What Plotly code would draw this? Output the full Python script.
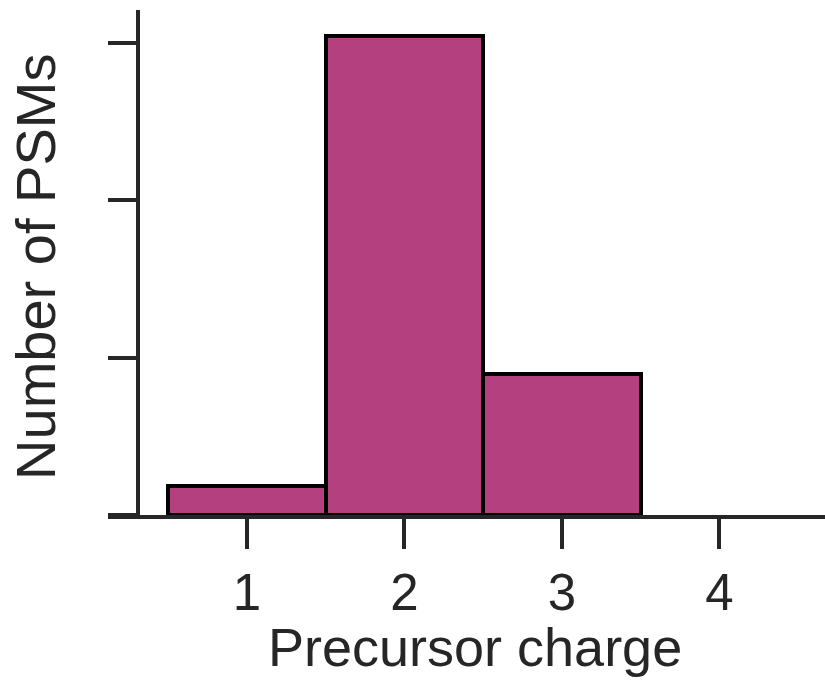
import plotly.graph_objects as go

charges = [1, 2, 3, 4]
psm_counts = [0.185, 3.045, 0.895, 0.0]
x_ticks = [1, 2, 3, 4]
x_tick_labels = ["1", "2", "3", "4"]
y_ticks = [0, 1, 2, 3]
x_title = "Precursor charge"
y_title = "Number of PSMs"

axis_color = "#262626"
font_family = "Liberation Sans, Arial, sans-serif"

edge_widths = [4 if v > 0 else 0 for v in psm_counts]

fig = go.Figure()
fig.add_trace(go.Bar(
    x=charges,
    y=psm_counts,
    width=1.0,
    marker=dict(color="rgb(181,64,128)", line=dict(color="black", width=edge_widths)),
    showlegend=False,
))

fig.update_layout(
    width=825,
    height=684,
    margin=dict(l=108, r=0, t=10, b=169),
    paper_bgcolor="white",
    plot_bgcolor="white",
    font=dict(family=font_family, color=axis_color),
    bargap=0,
    xaxis=dict(
        range=[0.1175, 4.670],
        tickvals=x_ticks,
        ticktext=x_tick_labels,
        ticks="outside",
        ticklen=30,
        tickwidth=4,
        tickcolor=axis_color,
        showline=True,
        linewidth=4,
        linecolor=axis_color,
        showgrid=False,
        zeroline=False,
        tickfont=dict(size=51, color=axis_color),
    ),
    yaxis=dict(
        range=[0, 3.21],
        tickvals=y_ticks,
        showticklabels=False,
        ticks="outside",
        ticklen=28,
        tickwidth=4,
        tickcolor=axis_color,
        showline=True,
        linewidth=4,
        linecolor=axis_color,
        showgrid=False,
        zeroline=False,
        anchor="free",
        position=0.0418,
    ),
    annotations=[
        dict(text=x_title, xref="paper", yref="paper", x=0.512, y=-0.262,
             xanchor="center", yanchor="middle", showarrow=False,
             font=dict(size=54, color=axis_color, family=font_family)),
        dict(text=y_title, xref="paper", yref="paper", x=-0.102, y=0.491,
             xanchor="center", yanchor="middle", textangle=-90, showarrow=False,
             font=dict(size=56, color=axis_color, family=font_family)),
    ],
)

fig.write_html("out.html")
